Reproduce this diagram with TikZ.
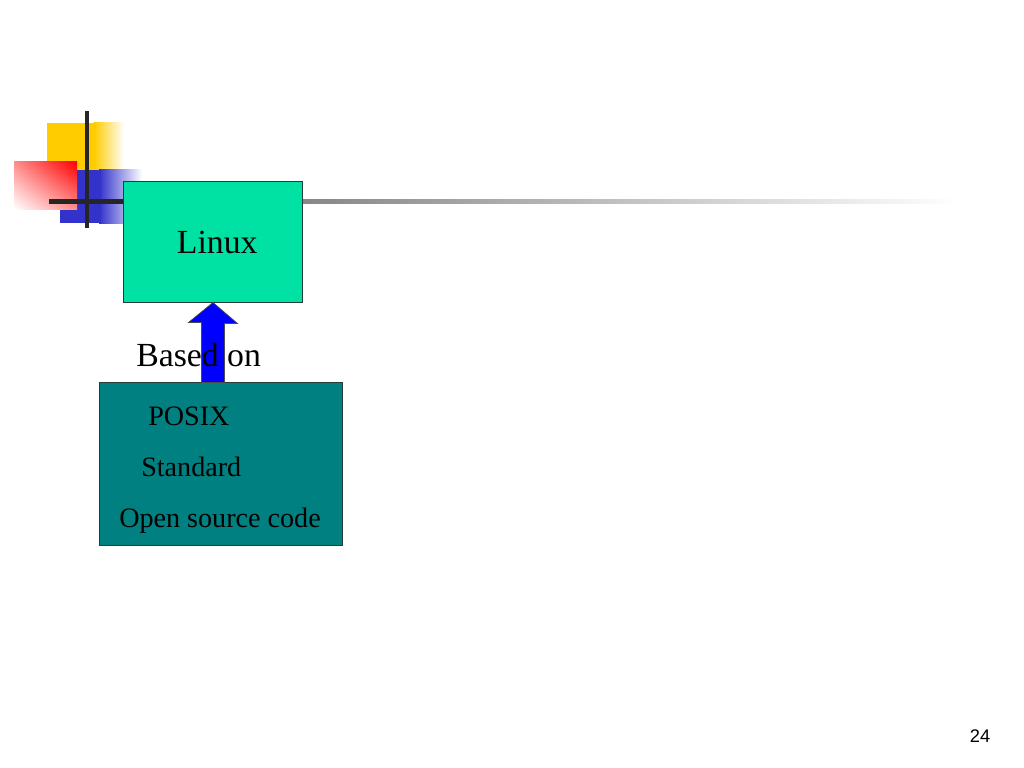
\documentclass[tikz,border=0pt]{standalone}
\usepackage{fontspec}
\setmainfont{Liberation Serif}
\newfontfamily\pagefont{Liberation Sans}
\usetikzlibrary{calc,shadings}
\definecolor{linuxgreen}{RGB}{0,226,164}
\definecolor{posixteal}{RGB}{0,128,128}
\definecolor{boxline}{RGB}{40,60,60}
\definecolor{decoyellow}{RGB}{255,204,0}
\definecolor{decoblue}{RGB}{51,51,204}
\definecolor{decored}{RGB}{255,0,0}

\begin{document}
\begin{tikzpicture}[x=0.025cm, y=-0.025cm,
	stdbox/.style={shape=rectangle, draw=boxline, line width=0.7pt, inner sep=0pt},
	textline/.style={anchor=base west, inner sep=0pt, font=\fontsize{20}{24}\selectfont},
	bigarrow/.style={fill=blue, draw=black!70, line width=0.5pt}]
	
	\useasboundingbox (0,0) rectangle (1024,768);
	
	% corner decoration
	\shade[left color=decoyellow, right color=white] (94,123) rectangle (124,175);
	\fill[decoyellow] (47,123) rectangle (96,175);
	\shade[left color=decoblue, right color=white] (99,170) rectangle (142,223);
	\fill[decoblue] (60,170) rectangle (101,223);
	\shade[upper right=decored, lower left=white, upper left=decored!45!white, lower right=decored!45!white] (14,162) rectangle (77,209);
	\fill[black!85] (85,111) rectangle (89,228);
	\fill[black!85] (49,198.5) rectangle (125,203.5);
	\shade[left color=black!60, right color=white] (125,199) rectangle (960,203);
	
	\node[stdbox, fill=linuxgreen, minimum width=4.45cm, minimum height=3cm, font=\fontsize{24}{28}\selectfont, text depth=0pt] (linux) at (213,242) {\hspace*{6pt}Linux};
	\node[stdbox, fill=posixteal, minimum width=6.05cm, minimum height=4.05cm] (posix) at (221,464) {};
	
	\coordinate (tip) at (linux.south);
	\coordinate (foot) at (linux.south |- posix.north);
	\draw[bigarrow] ($(foot)+(-11.5,0)$) -- ++(0,-60) -- ++(-13,0) -- (tip) -- ++(24.5,21) -- ++(-13,0) -- ($(foot)+(11.5,0)$) -- cycle;
	
	\node[textline, font=\fontsize{24}{28}\selectfont] (based) at (136,366) {Based on};
	\node[textline] (posixtext) at (148,425) {POSIX};
	\node[textline] (standard) at (141,476) {Standard};
	\node[textline] (opensource) at (119,527) {Open source code};
	
	\node[anchor=base, inner sep=0pt, font=\pagefont\fontsize{13}{15}\selectfont] (page) at (980,742) {24};
	
\end{tikzpicture}
\end{document}
